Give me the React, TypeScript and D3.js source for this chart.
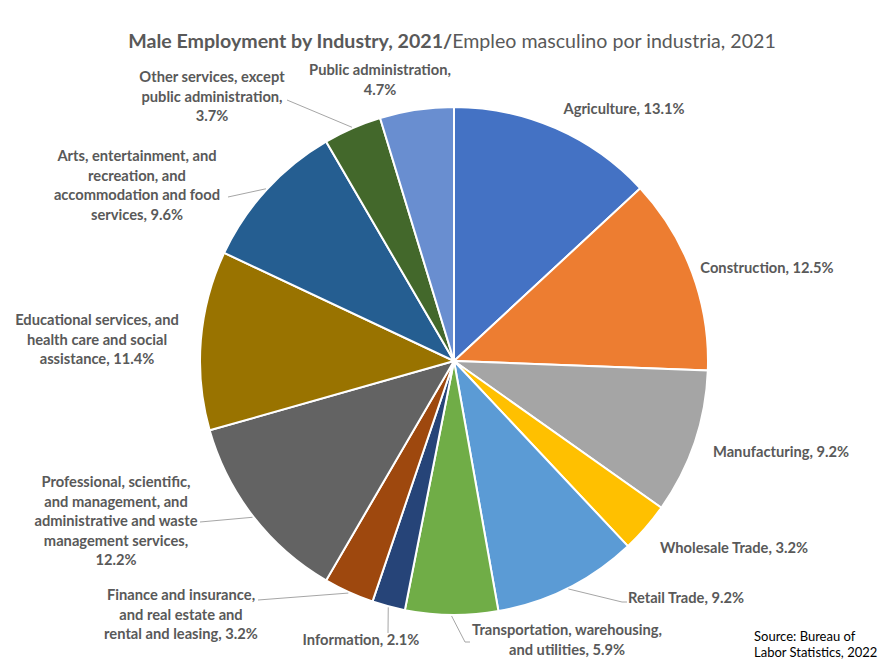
import React from "react";
import * as d3 from "d3";

const categories = [
  "Agriculture",
  "Construction",
  "Manufacturing",
  "Wholesale Trade",
  "Retail Trade",
  "Transportation, warehousing, and utilities",
  "Information",
  "Finance and insurance, and real estate and rental and leasing",
  "Professional, scientific, and management, and administrative and waste management services",
  "Educational services, and health care and social assistance",
  "Arts, entertainment, and recreation, and accommodation and food services",
  "Other services, except public administration",
  "Public administration",
];
const shares = [13.1, 12.5, 9.2, 3.2, 9.2, 5.9, 2.1, 3.2, 12.2, 11.4, 9.6, 3.7, 4.7];
const colors = [
  "#4472C4", "#ED7D31", "#A5A5A5", "#FFC000", "#5B9BD5", "#70AD47",
  "#264478", "#9E480E", "#636363", "#997300", "#255E91", "#43682B", "#698ED0",
];
const labelLines = [
  ["Agriculture, 13.1%"],
  ["Construction, 12.5%"],
  ["Manufacturing, 9.2%"],
  ["Wholesale Trade, 3.2%"],
  ["Retail Trade, 9.2%"],
  ["Transportation, warehousing,", "and utilities, 5.9%"],
  ["Information, 2.1%"],
  ["Finance and insurance,", "and real estate and", "rental and leasing, 3.2%"],
  ["Professional, scientific,", "and management, and", "administrative and waste", "management services,", "12.2%"],
  ["Educational services, and", "health care and social", "assistance, 11.4%"],
  ["Arts, entertainment, and", "recreation, and", "accommodation and food", "services, 9.6%"],
  ["Other services, except", "public administration,", "3.7%"],
  ["Public administration,", "4.7%"],
];

// layout: label centre x, first baseline y, optional leader path points on the label side
const labelLayout: { x: number; y: number; leader?: [number, number][] }[] = [
  { x: 624, y: 114 },
  { x: 767, y: 273 },
  { x: 781, y: 457 },
  { x: 734, y: 553 },
  { x: 686, y: 603, leader: [[622, 602], [627, 602]] },
  { x: 567, y: 635, leader: [[465, 642], [470, 642]] },
  { x: 361, y: 645, leader: [[388, 633]] },
  { x: 181, y: 600, leader: [[258, 600]] },
  { x: 116, y: 487, leader: [[200, 522]] },
  { x: 97, y: 325 },
  { x: 137, y: 161, leader: [[228, 197]] },
  { x: 212, y: 82, leader: [[287, 100]] },
  { x: 380, y: 75 },
];

const W = 879;
const H = 663;
const cx = 454;
const cy = 361;
const R = 254;
const FONT = "Lato, 'Open Sans', sans-serif";
const TEXT = "#595959";

export default function App() {
  const pie = d3.pie<number>().sort(null).value((d) => d).startAngle(0).endAngle(2 * Math.PI);
  const arcs = pie(shares);
  const arc = d3.arc<d3.PieArcDatum<number>>().innerRadius(0).outerRadius(R);
  const edgeArc = d3.arc<d3.PieArcDatum<number>>().innerRadius(R + 1).outerRadius(R + 1);

  return (
    <svg width={W} height={H} style={{ position: "absolute", left: 0, top: 0, background: "#fff" }}>
      <text x={452} y={48} textAnchor="middle" fontFamily={FONT} fontSize={19.6} fill={TEXT}>
        <tspan fontWeight="bold">Male Employment by Industry, 2021/</tspan>
        <tspan>Empleo masculino por industria, 2021</tspan>
      </text>
      <g transform={`translate(${cx},${cy})`}>
        {arcs.map((a, i) => (
          <path key={i} d={arc(a) || ""} fill={colors[i]} stroke="#fff" strokeWidth={2} />
        ))}
      </g>
      {arcs.map((a, i) => {
        const L = labelLayout[i];
        if (!L.leader) return null;
        const [ex, ey] = edgeArc.centroid(a);
        const pts = [[cx + ex, cy + ey], ...L.leader];
        return (
          <polyline
            key={"l" + i}
            points={pts.map((p) => p.join(",")).join(" ")}
            fill="none"
            stroke="#A6A6A6"
            strokeWidth={1}
          />
        );
      })}
      {labelLines.map((lines, i) => {
        const L = labelLayout[i];
        return (
          <text
            key={"t" + i}
            x={L.x}
            y={L.y}
            textAnchor="middle"
            fontFamily={FONT}
            fontSize={14.7}
            fontWeight="bold"
            fill={TEXT}
          >
            {lines.map((ln, j) => (
              <tspan key={j} x={L.x} dy={j === 0 ? 0 : 19.5}>
                {ln}
              </tspan>
            ))}
          </text>
        );
      })}
      <text x={754} y={641} fontFamily={FONT} fontSize={13} fill="#000">
        <tspan x={754}>Source: Bureau of</tspan>
        <tspan x={754} dy={16}>Labor Statistics, 2022</tspan>
      </text>
    </svg>
  );
}
